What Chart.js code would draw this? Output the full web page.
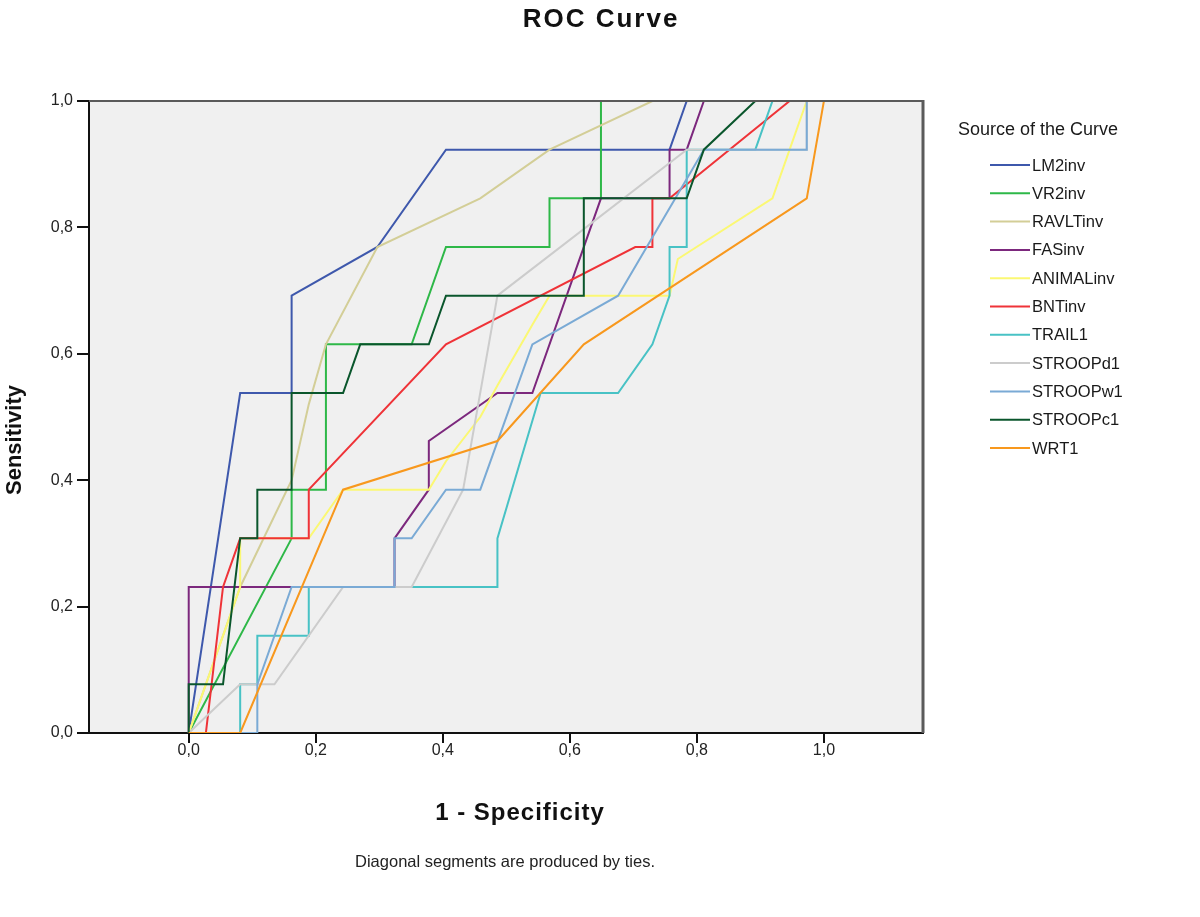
<!DOCTYPE html>
<html>
<head>
<meta charset="utf-8">
<script src="https://cdn.jsdelivr.net/npm/chart.js@4.4.1/dist/chart.umd.min.js"></script>
<style>
  html, body { margin: 0; padding: 0; background: #ffffff; }
  #wrap { width: 1200px; height: 917px; position: relative; }
</style>
</head>
<body>
<div id="wrap"><canvas id="c" width="1200" height="917"></canvas></div>
<script>
// ---- Data (1 - Specificity = x, Sensitivity = y) ----
const seriesNames = ["LM2inv","VR2inv","RAVLTinv","FASinv","ANIMALinv","BNTinv","TRAIL1","STROOPd1","STROOPw1","STROOPc1","WRT1"];

const LM2inv_x = [0, 0.081, 0.162, 0.162, 0.297, 0.405, 0.757, 0.784, 1];
const LM2inv_y = [0, 0.538, 0.538, 0.692, 0.769, 0.923, 0.923, 1, 1];

const VR2inv_x = [0, 0.162, 0.162, 0.216, 0.216, 0.351, 0.405, 0.568, 0.568, 0.649, 0.649, 1];
const VR2inv_y = [0, 0.308, 0.385, 0.385, 0.615, 0.615, 0.769, 0.769, 0.846, 0.846, 1, 1];

const RAVLTinv_x = [0, 0.081, 0.162, 0.189, 0.216, 0.297, 0.459, 0.568, 0.73, 1];
const RAVLTinv_y = [0, 0.231, 0.4, 0.52, 0.615, 0.769, 0.846, 0.923, 1, 1];

const FASinv_x = [0, 0, 0.324, 0.324, 0.378, 0.378, 0.486, 0.541, 0.649, 0.757, 0.757, 0.784, 0.811, 1];
const FASinv_y = [0, 0.231, 0.231, 0.308, 0.385, 0.462, 0.538, 0.538, 0.846, 0.846, 0.923, 0.923, 1, 1];

const ANIMALinv_x = [0, 0.081, 0.081, 0.189, 0.243, 0.378, 0.405, 0.459, 0.486, 0.541, 0.568, 0.757, 0.77, 0.919, 0.946, 0.973, 1];
const ANIMALinv_y = [0, 0.231, 0.308, 0.308, 0.385, 0.385, 0.43, 0.5, 0.55, 0.646, 0.692, 0.692, 0.75, 0.846, 0.923, 1, 1];

const BNTinv_x = [0, 0.027, 0.054, 0.081, 0.189, 0.189, 0.405, 0.703, 0.73, 0.73, 0.757, 0.946, 1];
const BNTinv_y = [0, 0, 0.231, 0.308, 0.308, 0.385, 0.615, 0.769, 0.769, 0.846, 0.846, 1, 1];

const TRAIL1_x = [0, 0.081, 0.081, 0.108, 0.108, 0.189, 0.189, 0.486, 0.486, 0.554, 0.676, 0.73, 0.757, 0.757, 0.784, 0.784, 0.892, 0.919, 1];
const TRAIL1_y = [0, 0, 0.077, 0.077, 0.154, 0.154, 0.231, 0.231, 0.308, 0.538, 0.538, 0.615, 0.692, 0.769, 0.769, 0.923, 0.923, 1, 1];

const STROOPd1_x = [0, 0.081, 0.135, 0.243, 0.351, 0.432, 0.486, 0.784, 0.973, 0.973, 1];
const STROOPd1_y = [0, 0.077, 0.077, 0.231, 0.231, 0.385, 0.692, 0.923, 0.923, 1, 1];

const STROOPw1_x = [0, 0.108, 0.108, 0.162, 0.324, 0.324, 0.351, 0.405, 0.459, 0.541, 0.676, 0.811, 0.973, 0.973, 1];
const STROOPw1_y = [0, 0, 0.077, 0.231, 0.231, 0.308, 0.308, 0.385, 0.385, 0.615, 0.692, 0.923, 0.923, 1, 1];

const STROOPc1_x = [0, 0, 0.054, 0.081, 0.108, 0.108, 0.162, 0.162, 0.243, 0.27, 0.378, 0.405, 0.622, 0.622, 0.784, 0.811, 0.892, 1];
const STROOPc1_y = [0, 0.077, 0.077, 0.308, 0.308, 0.385, 0.385, 0.538, 0.538, 0.615, 0.615, 0.692, 0.692, 0.846, 0.846, 0.923, 1, 1];

const WRT1_x = [0, 0.081, 0.243, 0.486, 0.622, 0.973, 1];
const WRT1_y = [0, 0, 0.385, 0.462, 0.615, 0.846, 1];

const xTickValues = [0, 0.2, 0.4, 0.6, 0.8, 1.0];
const yTickValues = [0, 0.2, 0.4, 0.6, 0.8, 1.0];

const seriesColors = ["#3E58AC","#2EB848","#D3CE97","#7C287D","#FBF873","#EF3338","#48C2C5","#CCCCCC","#7AAAD5","#0A562C","#F8981D"];

const seriesX = [LM2inv_x, VR2inv_x, RAVLTinv_x, FASinv_x, ANIMALinv_x, BNTinv_x, TRAIL1_x, STROOPd1_x, STROOPw1_x, STROOPc1_x, WRT1_x];
const seriesY = [LM2inv_y, VR2inv_y, RAVLTinv_y, FASinv_y, ANIMALinv_y, BNTinv_y, TRAIL1_y, STROOPd1_y, STROOPw1_y, STROOPc1_y, WRT1_y];

const FONT = 'Arial, "Liberation Sans", sans-serif';
const fmt = v => Number(v).toFixed(1).replace('.', ',');

const datasets = seriesNames.map((name, i) => ({
  label: name,
  data: seriesX[i].map((x, k) => ({ x: x, y: seriesY[i][k] })),
  borderColor: seriesColors[i],
  backgroundColor: seriesColors[i],
  borderWidth: 2,
  pointRadius: 0,
  tension: 0,
  fill: false,
  order: seriesNames.length - i
}));

function spacedText(ctx, text, x, y, spacing) {
  try { ctx.letterSpacing = spacing + 'px'; } catch (e) {}
  ctx.fillText(text, x, y);
  try { ctx.letterSpacing = '0px'; } catch (e) {}
}

const plotFrame = {
  id: 'plotFrame',
  beforeDraw(chart) {
    const { ctx, chartArea: a } = chart;
    ctx.save();
    ctx.fillStyle = '#F0F0F0';
    ctx.fillRect(a.left, a.top, a.right - a.left, a.bottom - a.top);
    ctx.restore();
  },
  afterDraw(chart) {
    const { ctx, chartArea: a } = chart;
    ctx.save();
    ctx.strokeStyle = '#5A5A5A';
    ctx.lineWidth = 2;
    ctx.beginPath();
    ctx.moveTo(a.left, a.top);
    ctx.lineTo(a.right, a.top);
    ctx.stroke();
    ctx.lineWidth = 3;
    ctx.beginPath();
    ctx.moveTo(a.right, a.top - 1);
    ctx.lineTo(a.right, a.bottom);
    ctx.stroke();
    ctx.restore();
  }
};

const chartTexts = {
  id: 'chartTexts',
  afterDraw(chart) {
    const ctx = chart.ctx;
    ctx.save();
    ctx.textBaseline = 'middle';
    ctx.textAlign = 'center';
    ctx.fillStyle = '#111';
    // main title
    ctx.font = 'bold 26px ' + FONT;
    spacedText(ctx, 'ROC Curve', 601, 20, 2);
    // x-axis title
    ctx.font = 'bold 24px ' + FONT;
    spacedText(ctx, '1 - Specificity', 520, 813, 1);
    // footnote
    ctx.font = '16.5px ' + FONT;
    ctx.fillStyle = '#222';
    ctx.fillText('Diagonal segments are produced by ties.', 505, 862);
    // y-axis title
    ctx.fillStyle = '#111';
    ctx.font = 'bold 22px ' + FONT;
    ctx.translate(15, 440);
    ctx.rotate(-Math.PI / 2);
    ctx.fillText('Sensitivity', 0, 0);
    ctx.restore();

    // legend
    ctx.save();
    ctx.fillStyle = '#1a1a1a';
    ctx.textBaseline = 'middle';
    ctx.textAlign = 'left';
    ctx.font = '18px ' + FONT;
    ctx.fillText('Source of the Curve', 958, 130);
    ctx.font = '16.5px ' + FONT;
    chart.data.datasets.forEach((ds, i) => {
      const y = 165 + i * 28.3;
      ctx.strokeStyle = ds.borderColor;
      ctx.lineWidth = 2;
      ctx.beginPath();
      ctx.moveTo(990, y);
      ctx.lineTo(1030, y);
      ctx.stroke();
      ctx.fillStyle = '#1a1a1a';
      ctx.fillText(ds.label, 1032, y + 1);
    });
    ctx.restore();
  }
};

new Chart(document.getElementById('c'), {
  type: 'line',
  data: { datasets },
  options: {
    responsive: false,
    animation: false,
    layout: { padding: { left: 0, right: 277, top: 101, bottom: 84 } },
    plugins: {
      legend: { display: false },
      tooltip: { enabled: false },
      title: { display: false }
    },
    scales: {
      x: {
        type: 'linear',
        min: -0.157,
        max: 1.156,
        afterBuildTicks: s => { s.ticks = xTickValues.map(v => ({ value: v })); },
        afterFit: s => { s.height = 100; },
        ticks: {
          color: '#222',
          font: { family: FONT, size: 16 },
          padding: -2,
          maxRotation: 0,
          callback: v => fmt(v)
        },
        grid: { display: true, drawOnChartArea: false, drawTicks: true, tickLength: 10, color: '#111', lineWidth: 2 },
        border: { display: true, color: '#111', width: 2 },
        title: { display: false }
      },
      y: {
        type: 'linear',
        min: 0,
        max: 1,
        afterBuildTicks: s => { s.ticks = yTickValues.map(v => ({ value: v })); },
        afterFit: s => { s.width = 89; },
        ticks: {
          color: '#222',
          font: { family: FONT, size: 16 },
          padding: 4,
          callback: v => fmt(v)
        },
        grid: { display: true, drawOnChartArea: false, drawTicks: true, tickLength: 12, color: '#111', lineWidth: 2 },
        border: { display: true, color: '#111', width: 2 },
        title: { display: false }
      }
    }
  },
  plugins: [plotFrame, chartTexts]
});
</script>
</body>
</html>
